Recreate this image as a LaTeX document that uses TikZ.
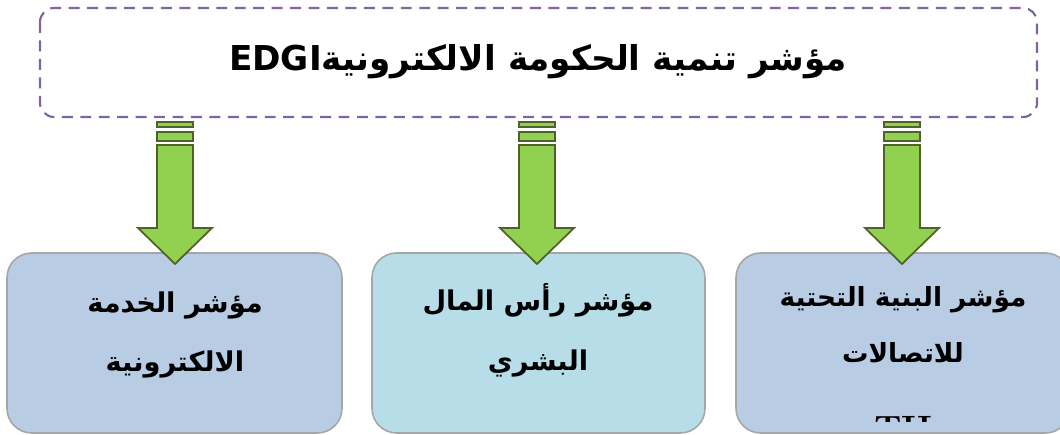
\documentclass[tikz,border=0pt]{standalone}
\usepackage{fontspec}
\newfontfamily\arabicfont[Script=Arabic]{DejaVu Sans}
\TeXXeTstate=1
\definecolor{dashpurple}{HTML}{8064A2}
\definecolor{boxblue}{HTML}{B8CCE4}
\definecolor{boxcyan}{HTML}{B7DDE8}
\definecolor{boxedge}{HTML}{A6A6A6}
\definecolor{arrowgreen}{HTML}{92D050}
\definecolor{arrowedge}{HTML}{4F6228}
\tikzset{
  px/.style={x=0.02cm,y=-0.02cm},
  topbox/.style={draw=dashpurple,line width=1.2pt,dash pattern=on 6.2pt off 4.3pt,rounded corners=8pt,fill=white},
  lowbox/.style={draw=boxedge,line width=0.9pt,rounded corners=14pt},
  arrowpart/.style={fill=arrowgreen,draw=arrowedge,line width=1pt,line join=miter},
  boxtext/.style={font=\arabicfont\bfseries\fontsize{15.5}{34}\selectfont,align=center,text=black},
  pics/bigarrow/.style={code={
    \path[arrowpart] (-18,0) rectangle (18,5);
    \path[arrowpart] (-18,10) rectangle (18,19);
    \path[arrowpart] (-18,23) -- (18,23) -- (18,106) -- (37,106) -- (0,142) -- (-37,106) -- (-18,106) -- cycle;
  }}
}
\begin{document}
\begin{tikzpicture}[px]
\useasboundingbox (0,0) rectangle (1060,435);
% top box
\draw[topbox] (40,8) rectangle (1037,117);
\node[font=\arabicfont\bfseries\fontsize{19.5}{22}\selectfont] (title) at (538,62) {\beginR مؤشر تنمية الحكومة الالكترونية\beginL EDGI\endL\endR};
% bottom boxes
\begin{scope}
\clip (0,0) rectangle (1060,435);
\draw[lowbox,fill=boxblue] (7,253) rectangle (342,433);
\draw[lowbox,fill=boxcyan] (372,253) rectangle (705,433);
\draw[lowbox,fill=boxblue] (736,253) rectangle (1070,433);
\end{scope}
\node[boxtext] (t1) at (175,335) {\beginR مؤشر الخدمة\endR\\\beginR الالكترونية\endR};
\node[boxtext] (t2) at (538,330) {\beginR مؤشر رأس المال\endR\\\beginR البشري\endR};
\node[boxtext,font=\arabicfont\bfseries\fontsize{15}{32}\selectfont] (t3) at (903,325) {\beginR مؤشر البنية التحتية\endR\\\beginR للاتصالات\endR};
\begin{scope}
\clip (736,253) rectangle (1060,421);
\node[font=\bfseries\fontsize{20}{22}\selectfont,anchor=north] (tii) at (903,410) {TII};
\end{scope}
% arrows
\pic at (175,122) {bigarrow};
\pic at (537,122) {bigarrow};
\pic at (902,122) {bigarrow};
\end{tikzpicture}
\end{document}
